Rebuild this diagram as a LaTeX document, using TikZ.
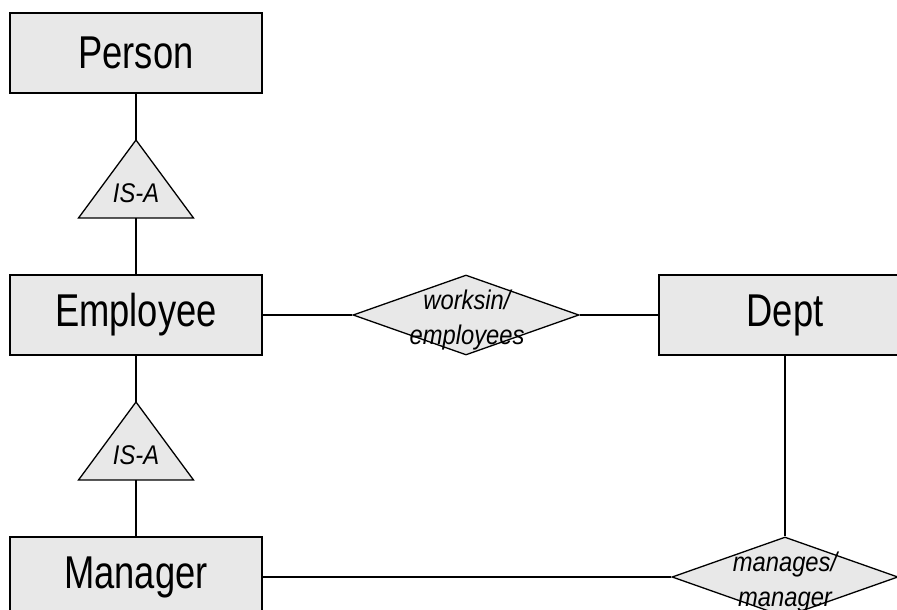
\documentclass[tikz,border=0pt]{standalone}
\usepackage{fontspec}
\setmainfont{Liberation Sans}
\newfontfamily\entityfont[FakeStretch=0.79]{Liberation Sans}
\newfontfamily\labelfont[FakeStretch=0.88]{Liberation Sans}
\usetikzlibrary{shapes.geometric}
\begin{document}
\begin{tikzpicture}[x=1pt,y=-1pt,
  line width=1.3pt,
  entity/.style={draw=black, fill=black!9, rectangle, minimum width=252pt,
    minimum height=80pt, inner sep=0pt,
    font=\entityfont\fontsize{46}{50}\selectfont},
  relation/.style={draw=black, fill=black!9, diamond, minimum width=226pt,
    minimum height=80pt, inner sep=0pt},
  rellabel/.style={align=center, inner sep=0pt,
    font=\labelfont\itshape\fontsize{27}{35}\selectfont},
  isatri/.style={draw=black, fill=black!9, line join=miter},
  isalabel/.style={inner sep=0pt, font=\labelfont\itshape\fontsize{27}{30}\selectfont},
  link/.style={draw=black}]
\useasboundingbox (0,0) rectangle (897,610);
\clip (0,0) rectangle (897,610);

% entity sets
\node[entity] (person)   at (136,53)  {Person};
\node[entity] (employee) at (136,315) {Employee};
\node[entity] (manager)  at (136,577) {Manager};
\node[entity] (dept)     at (785,315) {Dept};

% IS-A triangles
\coordinate (isa1-top) at (136,140);
\coordinate (isa1-bot) at (136,218);
\draw[isatri] (isa1-top) -- (193.5,218) -- (78.5,218) -- cycle;
\node[isalabel] (isa1) at (136,193) {IS-A};

\coordinate (isa2-top) at (136,402);
\coordinate (isa2-bot) at (136,480);
\draw[isatri] (isa2-top) -- (193.5,480) -- (78.5,480) -- cycle;
\node[isalabel] (isa2) at (136,455) {IS-A};

% relationship sets
\node[relation] (worksin) at (466,315) {};
\node[rellabel] (worksin-text) at (467,320) {worksin/\\employees};
\node[relation] (manages) at (785,577) {};
\node[rellabel] (manages-text) at (785,582) {manages/\\manager};

% connectors
\draw[link] (person.south) -- (isa1-top);
\draw[link] (isa1-bot) -- (employee.north);
\draw[link] (employee.south) -- (isa2-top);
\draw[link] (isa2-bot) -- (manager.north);
\draw[link] (employee.east) -- (worksin.west);
\draw[link] (worksin.east) -- (dept.west);
\draw[link] (manager.east) -- (manages.west);
\draw[link] (dept.south) -- (manages.north);
\end{tikzpicture}
\end{document}
